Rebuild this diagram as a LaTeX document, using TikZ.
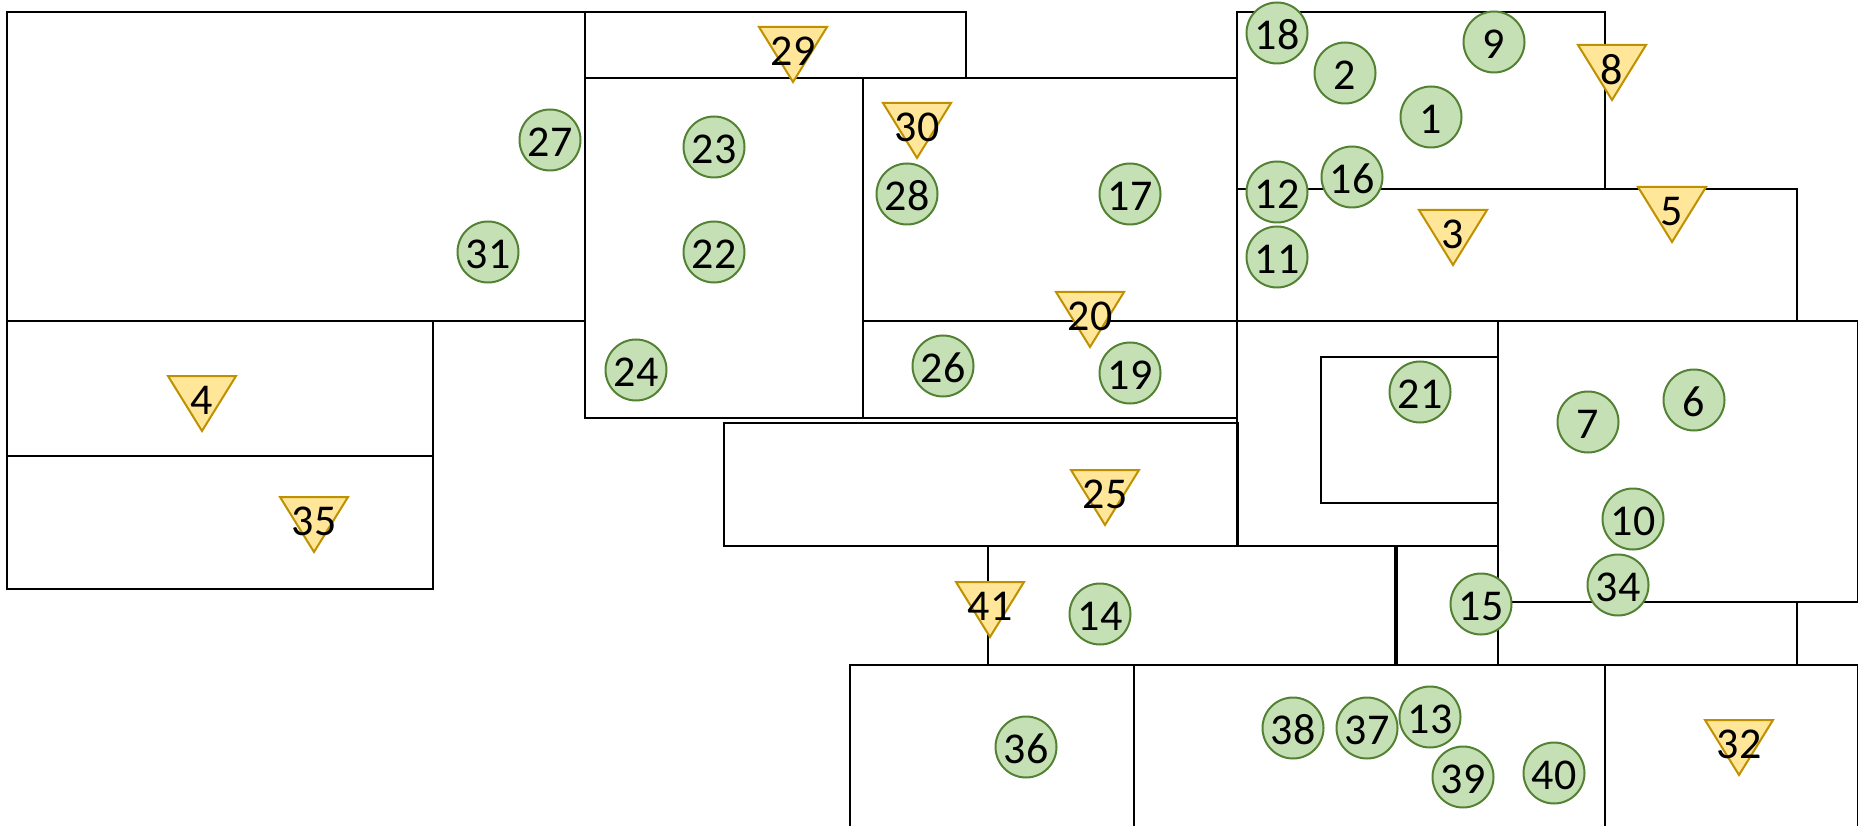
\documentclass[tikz,border=0pt]{standalone}
\usepackage{fontspec}
\setmainfont{Carlito}
\definecolor{gfill}{HTML}{C5E0B4}
\definecolor{gdraw}{HTML}{548235}
\definecolor{yfill}{HTML}{FFE699}
\definecolor{ydraw}{HTML}{BF9000}
\tikzset{
  room/.style={draw=black,line width=2.2pt},
  circ/.style={circle,draw=gdraw,fill=gfill,line width=2pt,minimum size=61pt,inner sep=0pt,
    font=\fontsize{44}{44}\selectfont,text height=33pt,text depth=0pt},
  tri/.style={draw=ydraw,fill=yfill,line width=2pt,line join=miter},
  tritext/.style={inner sep=0pt,font=\fontsize{44}{44}\selectfont}
}
\newcommand\ytri[4]{%
  \draw[tri] (#2-34,#3) -- (#2+34,#3) -- (#2,#3+55) -- cycle;
  \node[tritext] (#1) at (#2,#3+24.5) {#4};}
\begin{document}
\begin{tikzpicture}[x=1pt,y=-1pt]
\useasboundingbox (0,0) rectangle (1858,826);
\begin{scope}
\clip (0,0) rectangle (1858,826);
\draw[room] (7,12) rectangle (585,321);
\draw[room] (585,12) rectangle (966,78);
\draw[room] (585,78) rectangle (863,418);
\draw[room] (863,78) rectangle (1237,321);
\draw[room] (863,321) rectangle (1237,418);
\draw[room] (7,321) rectangle (433,456);
\draw[room] (7,456) rectangle (433,589);
\draw[room] (724,423) rectangle (1238,546);
\draw[room] (1237,12) rectangle (1605,189);
\draw[room] (1237,189) rectangle (1797,321);
\draw[room] (1237,321) rectangle (1498,546);
\draw[room] (1321,357) rectangle (1498,503);
\draw[room] (1498,321) rectangle (1858.5,602);
\draw[room] (988,546) rectangle (1395,665);
\draw[room] (1395,546) rectangle (1498,665);
\draw[line width=4pt] (1395.5,546) -- (1395.5,665);
\draw[room] (1498,602) rectangle (1797,665);
\draw[room] (1797,602) rectangle (1875,665);
\draw[room] (850,665) rectangle (1134,840);
\draw[room] (1134,665) rectangle (1605,840);
\draw[room] (1605,665) rectangle (1858.5,840);
\end{scope}

\node[circ] (c27) at (550,140) {27};
\node[circ] (c31) at (488,252) {31};
\node[circ] (c23) at (714,147) {23};
\node[circ] (c22) at (714,252) {22};
\node[circ] (c24) at (636,370) {24};
\node[circ] (c28) at (907,194) {28};
\node[circ] (c17) at (1130,194) {17};
\node[circ] (c26) at (943,366) {26};
\node[circ] (c19) at (1130,373) {19};
\node[circ] (c18) at (1277,33) {18};
\node[circ] (c2) at (1345,73) {2};
\node[circ] (c9) at (1494,42) {9};
\node[circ] (c1) at (1431,117) {1};
\node[circ] (c12) at (1277,192) {12};
\node[circ] (c16) at (1352,177) {16};
\node[circ] (c11) at (1277,257) {11};
\node[circ] (c21) at (1420,392) {21};
\node[circ] (c6) at (1694,400) {6};
\node[circ] (c7) at (1588,422) {7};
\node[circ] (c10) at (1633,519) {10};
\node[circ] (c34) at (1618,585) {34};
\node[circ] (c15) at (1481,604) {15};
\node[circ] (c14) at (1100,614) {14};
\node[circ] (c36) at (1026,747) {36};
\node[circ] (c38) at (1293,728) {38};
\node[circ] (c37) at (1367,728) {37};
\node[circ] (c13) at (1430,717) {13};
\node[circ] (c39) at (1463,777) {39};
\node[circ] (c40) at (1554,773) {40};

\ytri{t29}{793}{27}{29}
\ytri{t30}{917}{103}{30}
\ytri{t20}{1090}{292}{20}
\ytri{t8}{1612}{45}{8}
\ytri{t3}{1453}{210}{3}
\ytri{t5}{1672}{187}{5}
\ytri{t4}{202}{376}{4}
\ytri{t35}{314}{497}{35}
\ytri{t25}{1105}{470}{25}
\ytri{t41}{990}{582}{41}
\ytri{t32}{1739}{720}{32}
\end{tikzpicture}
\end{document}
